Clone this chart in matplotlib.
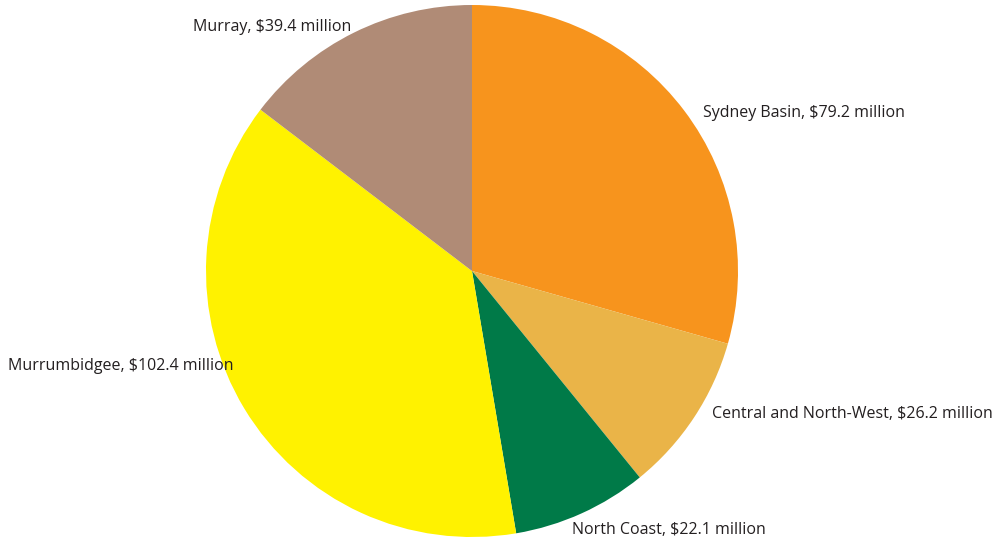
import matplotlib
matplotlib.use("Agg")
import matplotlib.pyplot as plt

# regional funding, $ million
regions = ["Sydney Basin", "Central and North-West", "North Coast",
           "Murrumbidgee", "Murray"]
amounts = [79.2, 26.2, 22.1, 102.4, 39.4]
colors = ["#F7941D", "#EAB448", "#007A48", "#FFF200", "#B08B76"]

# label anchor (left edge, vertical centre) in figure pixels
label_pos = [(703, 113), (712, 414), (572, 530), (8, 366), (193, 27)]

W, H = 997, 543
fig = plt.figure(figsize=(W / 100, H / 100), dpi=100)
cx, cy, r = 472, 271, 266
ax = fig.add_axes([(cx - r) / W, (H - cy - r) / H, 2 * r / W, 2 * r / H])
ax.pie(amounts, colors=colors, startangle=90, counterclock=False,
       radius=1, wedgeprops=dict(linewidth=0))
ax.set_xlim(-1, 1)
ax.set_ylim(-1, 1)
ax.set_aspect("equal")
ax.axis("off")

for name, amt, (px, py) in zip(regions, amounts, label_pos):
    fig.text(px / W, 1 - py / H, f"{name}, ${amt:.1f} million",
             ha="left", va="center", fontsize=11.5, color="#231F20",
             family="Open Sans")

fig.savefig("out.png", dpi=100)
